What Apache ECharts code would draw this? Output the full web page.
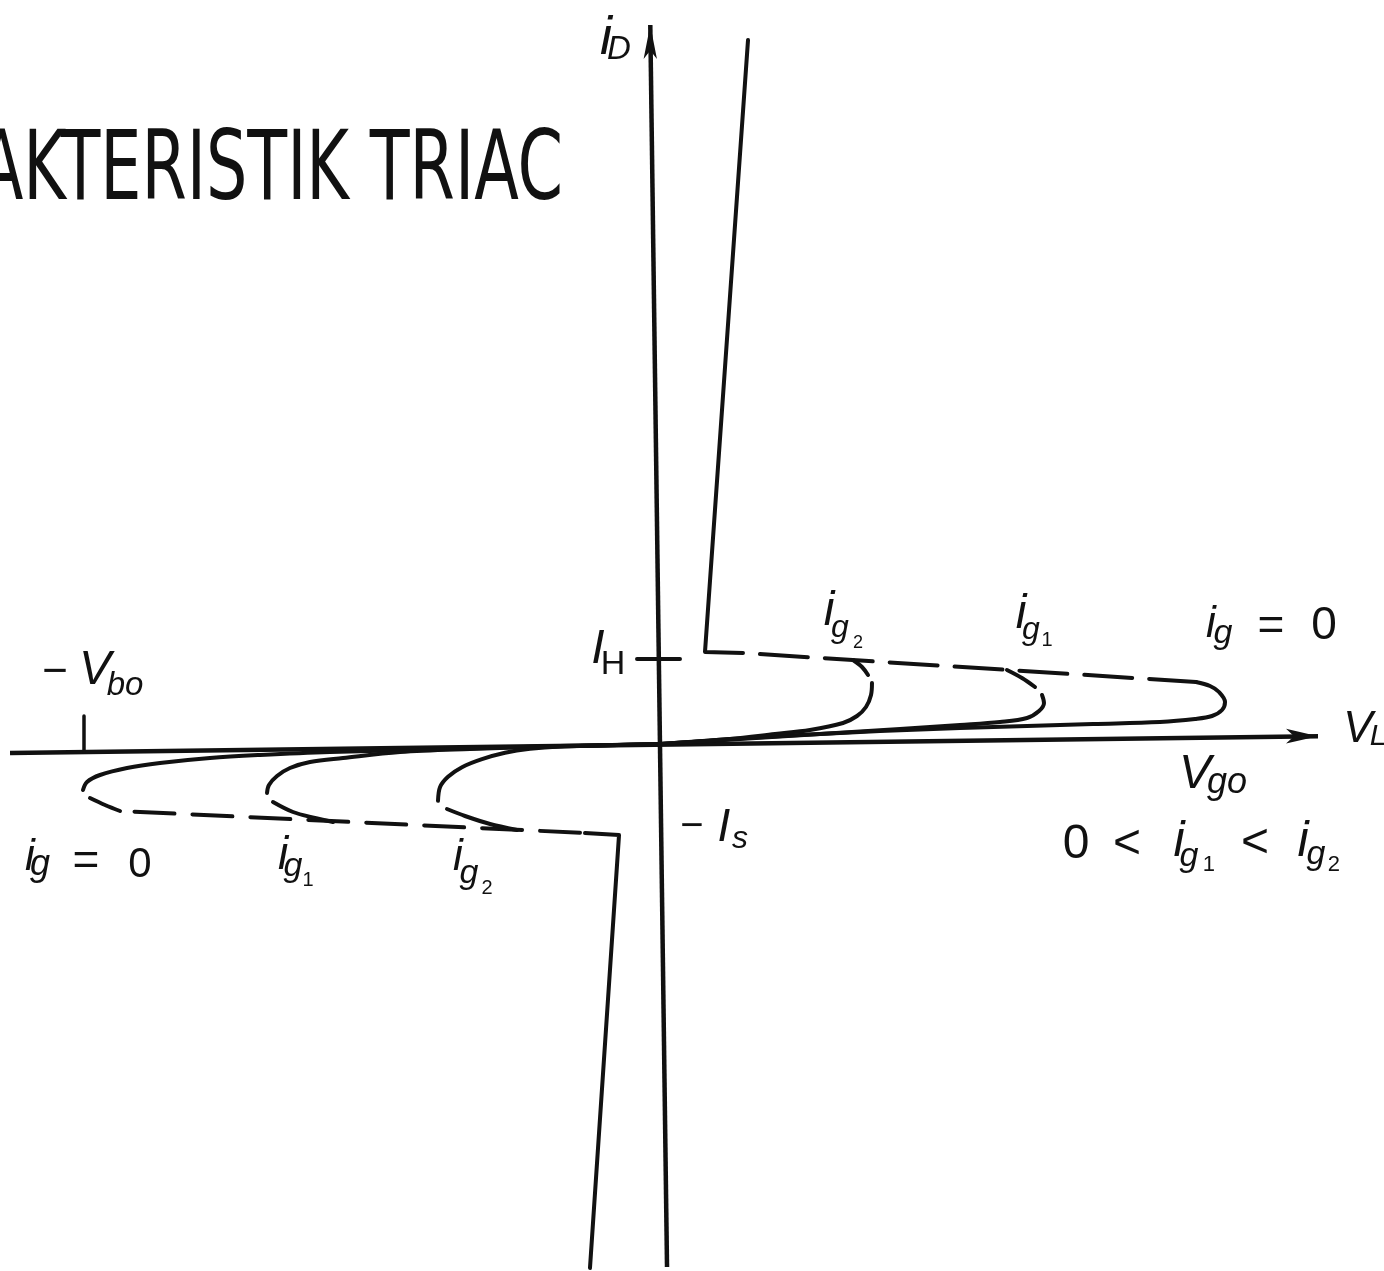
<!DOCTYPE html>
<html>
<head>
<meta charset="utf-8">
<title>Karakteristik TRIAC</title>
<script src="https://cdn.jsdelivr.net/npm/echarts/dist/echarts.min.js"></script>
<style>
  html, body { margin: 0; padding: 0; background: #ffffff; }
  #chart { width: 1384px; height: 1271px; }
</style>
</head>
<body>
<div id="chart"></div>
<script>
// Voltage (v_L) and current (i_D) in arbitrary units of the sketch.
const V_RANGE = [-110, 120.667];
const I_RANGE = [-65.875, 93];

// Hand-drawn axes (slightly tilted); last point carries the arrowhead.
const currentAxis = [[1.17, -65.375], [-1.62, 89.875]];
const voltageAxis = [[-108.33, -1.125], [109.67, 0.975]];

// Reference marks: breakover voltage -V_bo and holding current I_H.
const VBO = -96;
const IH = 10.625;
const vboTick = [[VBO, -1.0], [VBO, 3.5]];
const ihTick = [[-3.83, IH], [3.33, IH]];

// First quadrant: on-state branch and the dashed unstable (negative-resistance) region.
const onStateFwd = [[14.67, 88.0], [7.5, 11.5], [13.83, 11.375]];
const holdFwd = [[13.83, 11.375], [89.33, 7.75]];
// Off-state branches for i_g = 0, i_g1, i_g2 (null pair = pen lift).
const gateFwd0 = [[89.33, 7.75], [91.67, 7.25], [93.17, 6.5], [94.17, 5.25], [93.67, 4.25], [92.0, 3.5],
  [89.17, 3.125], [83.33, 2.75], [72.17, 2.5], [61.17, 2.25], [50, 2.0], [36.67, 1.625], [23.33, 1.125],
  [11.67, 0.625], [0, 0]];
const gateFwd1 = [[57.83, 9.25], [60.33, 8.25], [62.5, 7.125], [null, null], [63.67, 6.125], [64, 5.125],
  [63.17, 4.125], [61.17, 3.25], [56.67, 2.75], [50, 2.375], [40, 1.875], [26.67, 1.25], [13.33, 0.625], [0, 0]];
const gateFwd2 = [[32.17, 10.5], [33.67, 9.625], [34.67, 8.625], [null, null], [35.33, 7.625], [35.17, 6.125],
  [34.33, 4.625], [32.83, 3.5], [30.5, 2.625], [25, 1.75], [19.17, 1.25], [11.67, 0.625], [0, 0]];

// Third quadrant.
const onStateRev = [[-11.67, -65.5], [-6.83, -11.375], [-12.5, -11.125]];
const holdRev = [[-12.5, -11.125], [-90, -8.375]];
const gateRev0 = [[0, 0], [-16.67, -0.25], [-35, -0.625], [-55, -1.0], [-66.67, -1.375], [-75, -1.75],
  [-83.33, -2.375], [-88.83, -3.0], [-93.33, -3.875], [-95.5, -4.75], [-96.17, -5.75], [null, null],
  [-95, -6.75], [-92.5, -7.625], [-90, -8.375]];
const gateRev1 = [[0, 0], [-16.67, -0.3], [-31.67, -0.625], [-43.33, -1.0], [-52.83, -1.75], [-58.33, -2.25],
  [-61.67, -3.0], [-63.83, -4.0], [-65.17, -5.125], [-65.5, -6.125], [null, null], [-64.5, -7.25],
  [-61.17, -8.5], [-57.5, -9.25], [-54.5, -9.75]];
const gateRev2 = [[0, 0], [-10, -0.19], [-16.67, -0.3], [-21.67, -0.6], [-25.83, -1.1], [-29.67, -1.9],
  [-33, -2.9], [-35.33, -4.1], [-36.67, -5.4], [-37, -7.1], [null, null], [-35.5, -8.125], [-32.5, -9.0],
  [-28.33, -10.0], [-23.83, -10.75]];

const INK = '#111111';
const chart = echarts.init(document.getElementById('chart'), null, { renderer: 'canvas' });

function trace(name, data, opts) {
  opts = opts || {};
  return {
    name: name, type: 'line', data: data, smooth: opts.smooth || false, connectNulls: false,
    symbol: 'none', silent: true, animation: false, z: opts.z || 3,
    lineStyle: Object.assign({ color: INK, width: opts.width || 4, cap: 'round', join: 'round' }, opts.line || {})
  };
}

function arrowAxis(name, data, rotate, size) {
  return {
    name: name, type: 'line', silent: true, animation: false, z: 2,
    symbol: 'circle', symbolSize: 0, showSymbol: true,
    lineStyle: { color: INK, width: 4.5 },
    itemStyle: { color: INK },
    data: data.map((p, k) => k === data.length - 1
      ? { value: p, symbol: 'arrow', symbolSize: size, symbolRotate: rotate }
      : { value: p })
  };
}

const option = {
  backgroundColor: '#ffffff',
  animation: false,
  grid: { left: 0, right: 0, top: 0, bottom: 0 },
  xAxis: { type: 'value', min: V_RANGE[0], max: V_RANGE[1], show: false },
  yAxis: { type: 'value', min: I_RANGE[0], max: I_RANGE[1], show: false },
  series: [
    arrowAxis('i_D', currentAxis, 0, [10, 34]),
    arrowAxis('v_L', voltageAxis, -90, [11, 32]),
    trace('-V_bo', vboTick, { width: 3.5 }),
    trace('I_H', ihTick, { width: 4 }),
    trace('on-state +', onStateFwd),
    trace('holding +', holdFwd, { line: { type: [48, 17], dashOffset: 48 } }),
    trace('i_g = 0 (+)', gateFwd0, { smooth: 0.35 }),
    trace('i_g1 (+)', gateFwd1, { smooth: 0.35 }),
    trace('i_g2 (+)', gateFwd2, { smooth: 0.35 }),
    trace('on-state -', onStateRev),
    trace('holding -', holdRev, { line: { type: [40, 18], dashOffset: 53 } }),
    trace('i_g = 0 (-)', gateRev0, { smooth: 0.35 }),
    trace('i_g1 (-)', gateRev1, { smooth: 0.35 }),
    trace('i_g2 (-)', gateRev2, { smooth: 0.3 })
  ]
};
chart.setOption(option);

// Annotations: anchor in data units, pieces as [text, dx, dy, fontSize, italic?]
const labels = [
  { at: [-9, 88.125], parts: [['i', 0, 0, 54, 1], ['D', 13, 11, 33, 1]] },
  { at: [-10.33, 11.75], parts: [['I', 0, 0, 48, 1], ['H', 15, 15, 34, 0]] },
  { at: [5.33, -10.375], parts: [['−', 0, 0, 40, 0], ['I', 32, 1, 46, 1], ['s', 48, 12, 32, 1]] },
  { at: [-100.83, 8.875], parts: [['−', 0, 0, 44, 0], ['V', 40, -2, 48, 1], ['bo', 70, 13, 33, 1]] },
  { at: [28.17, 16.5], parts: [['i', 0, 0, 48, 1], ['g', 11, 16, 32, 1], ['2', 29, 31.5, 18, 0]] },
  { at: [60.17, 16.125], parts: [['i', 0, 0, 48, 1], ['g', 10, 15.5, 32, 1], ['1', 26, 25, 20, 0]] },
  { at: [91.83, 14.875], parts: [['i', 0, 0, 44, 1], ['g', 12, 9, 34, 1], ['=', 60, 2, 46, 0], ['0', 113, 1.5, 46, 0]] },
  { at: [116.33, 1.75], parts: [['V', 0, 0, 44, 1], ['L', 20, 7, 30, 1]] },
  { at: [89.17, -3.875], parts: [['V', 0, 0, 48, 1], ['go', 32, 8, 36, 1]] },
  { at: [69.33, -12.56], parts: [['0', 0, 0, 48, 0], ['<', 51, 0.5, 48, 0],
      ['i', 103, -2.5, 50, 1], ['g', 113, 12, 34, 1], ['1', 133, 20.5, 22, 0],
      ['<', 179, -1, 48, 0],
      ['i', 227, -2.5, 50, 1], ['g', 240, 10, 34, 1], ['2', 258, 20.5, 22, 0]] },
  { at: [-105, -14.25], parts: [['i', 0, 0, 44, 1], ['g', 10, 7, 36, 1], ['=', 56, 4, 46, 0], ['0', 110, 7, 42, 0]] },
  { at: [-62.83, -14], parts: [['i', 0, 0, 46, 1], ['g', 10, 10.5, 34, 1], ['1', 25, 24, 20, 0]] },
  { at: [-33.67, -14.25], parts: [['i', 0, 0, 44, 1], ['g', 11, 16, 34, 1], ['2', 29, 30.5, 20, 0]] }
];

const graphic = [];
labels.forEach(function (lab) {
  const p = chart.convertToPixel({ gridIndex: 0 }, lab.at);
  lab.parts.forEach(function (part) {
    graphic.push({
      type: 'text', silent: true, x: p[0] + part[1], y: p[1] + part[2], z: 10,
      style: {
        text: part[0], x: 0, y: 0, align: 'center', verticalAlign: 'middle', fill: INK,
        fontSize: part[3], fontStyle: part[4] ? 'italic' : 'normal',
        fontFamily: '"Liberation Sans", Arial, sans-serif'
      }
    });
  });
});

// Slide title, condensed caps, running off the left edge.
graphic.push({
  type: 'text', silent: true, x: 563, y: 174, scaleX: 0.755, z: 10,
  style: {
    text: 'KARAKTERISTIK TRIAC', x: 0, y: 0, align: 'right', verticalAlign: 'middle', fill: INK,
    fontSize: 96, fontFamily: '"Liberation Sans Narrow", "DejaVu Sans Condensed", sans-serif'
  }
});

chart.setOption({ graphic: graphic });
</script>
</body>
</html>
